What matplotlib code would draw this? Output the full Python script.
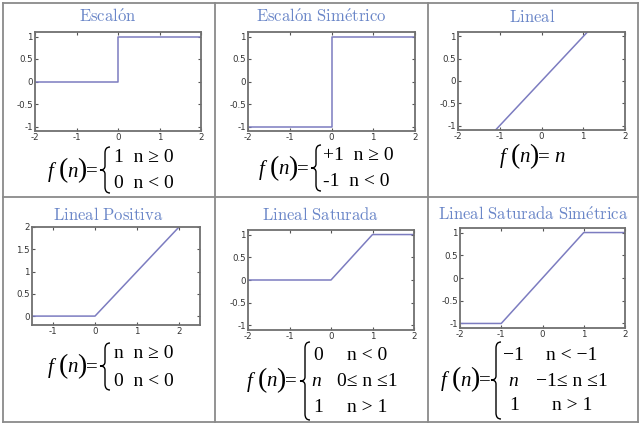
import matplotlib
matplotlib.use("Agg")
import matplotlib.pyplot as plt
from matplotlib.lines import Line2D
from matplotlib.path import Path
from matplotlib.patches import PathPatch

W, H = 642, 426

# datos de las funciones de transferencia
titulos = ["Escalón", "Escalón Simétrico", "Lineal",
           "Lineal Positiva", "Lineal Saturada", "Lineal Saturada Simétrica"]
titulos_tex = [r"$\mathrm{Escal\'on}$", r"$\mathrm{Escal\'on\ Sim\'etrico}$", r"$\mathrm{Lineal}$",
               r"$\mathrm{Lineal\ Positiva}$", r"$\mathrm{Lineal\ Saturada}$",
               r"$\mathrm{Lineal\ Saturada\ Sim\'etrica}$"]

escalon_x = [-2, 0, 0, 2]
escalon_y = [0, 0, 1, 1]
simetrico_x = [-2, 0, 0, 2]
simetrico_y = [-1, -1, 1, 1]
lineal_x = [-1.1, 1.1]
lineal_y = [-1.1, 1.1]
positiva_x = [-1.5, 0, 2.0]
positiva_y = [0, 0, 2.0]
saturada_x = [-2, 0, 1, 2]
saturada_y = [0, 0, 1, 1]
sat_sim_x = [-2, -1, 1, 2]
sat_sim_y = [-1, -1, 1, 1]

series = [(escalon_x, escalon_y), (simetrico_x, simetrico_y), (lineal_x, lineal_y),
          (positiva_x, positiva_y), (saturada_x, saturada_y), (sat_sim_x, sat_sim_y)]

xlims = [(-2, 2), (-2, 2), (-2, 2), (-1.5, 2.5), (-2, 2), (-2, 2)]
ylims = [(-1.1, 1.1), (-1.1, 1.1), (-1.1, 1.1), (-0.2, 2.0), (-1.1, 1.1), (-1.1, 1.1)]
xticks = [[-2, -1, 0, 1, 2]] * 3 + [[-1, 0, 1, 2], [-2, -1, 0, 1, 2], [-2, -1, 0, 1, 2]]
yticks = [[-1, -0.5, 0, 0.5, 1]] * 3 + [[0, 0.5, 1, 1.5, 2], [-1, -0.5, 0, 0.5, 1], [-1, -0.5, 0, 0.5, 1]]

# rectangulos de los ejes en pixeles (x0, y0, x1, y1)
cajas = [(35, 32, 201, 131), (248, 32, 415, 131), (458, 32, 625, 130),
         (32, 227, 200, 325), (248, 230, 414, 330), (460, 228, 625, 328)]
centros_titulo = [(108, 17), (321, 17), (532, 17), (108, 215), (321, 215), (533, 215)]

COLOR_LINEA = "#7c7cc0"
COLOR_TITULO = "#6a86c8"
COLOR_TABLA = "#8a8a8a"
SERIF = "Liberation Serif"

plt.rcParams["mathtext.fontset"] = "cm"

fig = plt.figure(figsize=(W / 100, H / 100), dpi=100)


def fx(x):
    return x / W


def fy(y):
    return 1 - y / H


def texto(x, y, s, size=14, style="normal", ha="left"):
    fig.text(fx(x), fy(y), s, fontsize=size, family=SERIF, style=style,
             ha=ha, va="center", color="black")


def llave(x, y0, y1, ym):
    # llave fina dibujada con curvas
    w = 5
    verts = [(x + w, y0), (x, y0), (x, y0 + 6),
             (x, ym - 4),
             (x, ym), (x - w, ym),
             (x, ym), (x, ym + 4),
             (x, y1 - 6), (x, y1), (x + w, y1)]
    codes = [Path.MOVETO, Path.CURVE3, Path.CURVE3,
             Path.LINETO,
             Path.CURVE3, Path.CURVE3,
             Path.CURVE3, Path.CURVE3,
             Path.LINETO, Path.CURVE3, Path.CURVE3]
    verts = [(fx(a), fy(b)) for a, b in verts]
    fig.patches.append(PathPatch(Path(verts, codes), transform=fig.transFigure,
                                 fill=False, lw=1.0, color="black"))


def fn(x, y):
    # f(n) =
    texto(x, y, "f", 15, "italic")
    texto(x + 11, y - 1, "(", 20)
    texto(x + 19, y, "n", 15, "italic")
    texto(x + 29, y - 1, ")", 20)
    texto(x + 38, y, "=", 15)


# tabla
for xv in [3, 215, 428, 638]:
    fig.add_artist(Line2D([fx(xv), fx(xv)], [fy(3), fy(422)], color=COLOR_TABLA, lw=1.3))
for yv in [3, 197, 422]:
    fig.add_artist(Line2D([fx(3), fx(638)], [fy(yv), fy(yv)], color=COLOR_TABLA, lw=1.3))

for i in range(6):
    x0, y0, x1, y1 = cajas[i]
    ax = fig.add_axes([fx(x0), fy(y1), fx(x1 - x0), (y1 - y0) / H])
    xs, ys = series[i]
    ax.plot(xs, ys, color=COLOR_LINEA, lw=1.1)
    ax.set_xlim(*xlims[i])
    ax.set_ylim(*ylims[i])
    ax.set_xticks(xticks[i])
    ax.set_yticks(yticks[i])
    ax.set_xticklabels([("%g" % v) for v in xticks[i]])
    ax.set_yticklabels([("%g" % v) for v in yticks[i]])
    ax.tick_params(direction="in", length=2.5, width=0.8, top=True, right=True,
                   labelsize=6.2, labelcolor="#333333", color="#555555", pad=1.5)
    for sp in ax.spines.values():
        sp.set_color("#707070")
        sp.set_linewidth(1.3)
    cx, cy = centros_titulo[i]
    fig.text(fx(cx), fy(cy), titulos_tex[i], fontsize=12, color=COLOR_TITULO,
             ha="center", va="center")

# formulas
fn(48, 172)
llave(105, 147, 193, 170)
texto(114, 157, "1  n ≥ 0", 14)
texto(114, 183, "0  n < 0", 14)

fn(259, 170)
llave(316, 145, 191, 168)
texto(323, 155, "+1  n ≥ 0", 14)
texto(323, 182, "-1  n < 0", 14)

texto(500, 158, "f", 15, "italic")
texto(511, 157, "(", 20)
texto(519, 158, "n", 15, "italic")
texto(529, 157, ")", 20)
texto(538, 158, "=", 15)
texto(554, 158, "n", 15, "italic")

fn(48, 368)
llave(105, 343, 390, 366)
texto(114, 353, "n  n ≥ 0", 14)
texto(114, 382, "0  n < 0", 14)

fn(247, 382)
llave(305, 342, 420, 381)
texto(313, 355, "0", 14)
texto(311, 382, "n", 14, "italic")
texto(313, 408, "1", 14)
texto(367, 355, "n < 0", 14, ha="center")
texto(367, 382, "0≤ n ≤1", 14, ha="center")
texto(367, 408, "n > 1", 14, ha="center")

fn(441, 381)
llave(496, 342, 419, 380)
texto(503, 355, "−1", 14)
texto(508, 381, "n", 14, "italic")
texto(509, 406, "1", 14)
texto(572, 355, "n < −1", 14, ha="center")
texto(572, 381, "−1≤ n ≤1", 14, ha="center")
texto(572, 406, "n > 1", 14, ha="center")

fig.savefig("out.png", dpi=100)
